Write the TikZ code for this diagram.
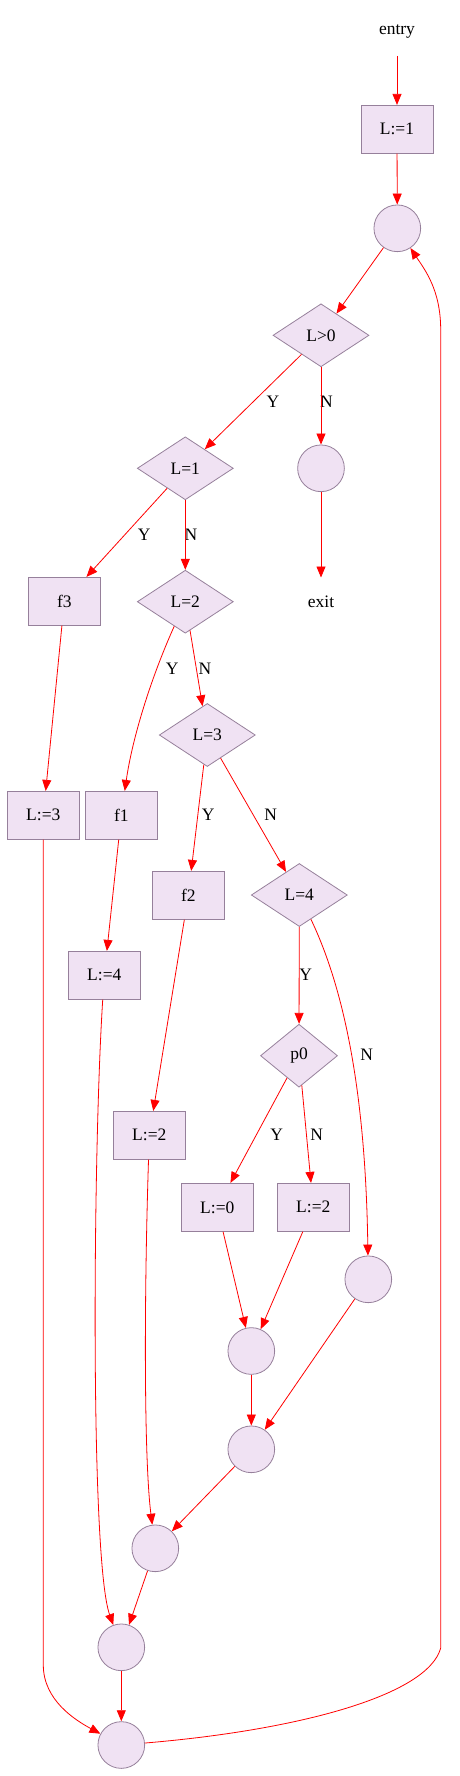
\documentclass[tikz,border=0pt]{standalone}
\usepackage{fontspec}
\setmainfont{Liberation Serif}
\usepackage{tikz}
\usetikzlibrary{shapes.geometric,arrows.meta}

\definecolor{nodefill}{RGB}{240,226,243}
\definecolor{nodeline}{RGB}{150,128,155}

\begin{document}
\begin{tikzpicture}[x=1pt,y=1pt,>={Triangle[length=11pt,width=9pt]},
font=\fontsize{17.5}{20}\selectfont,
flow/.style={draw=red,line width=0.8pt,->},
stmt/.style={draw=nodeline,fill=nodefill,line width=0.8pt,minimum width=72pt,minimum height=48pt,inner sep=0pt},
cond/.style={diamond,aspect=1.5,draw=nodeline,fill=nodefill,line width=0.8pt,minimum width=96pt,minimum height=63pt,inner sep=0pt},
merge/.style={circle,draw=nodeline,fill=nodefill,line width=0.8pt,minimum size=46.7pt,inner sep=0pt},
plainnode/.style={minimum width=72pt,minimum height=48pt,inner sep=0pt},
lbl/.style={inner sep=0pt}]
\useasboundingbox (0,0) rectangle (460,-1776);
\node[plainnode] (entry) at (397,-31.7) {entry};
\node[stmt] (set1) at (397,-129.3) {L:=1};
\node[merge] (loop) at (397.3,-228.3) {};
\node[cond] (gt0) at (321,-335.3) {L>0};
\node[cond] (eq1) at (185.3,-468.3) {L=1};
\node[merge] (out) at (321,-468.3) {};
\node[plainnode] (exit) at (321,-601.7) {exit};
\node[stmt] (f3) at (64.3,-601.3) {f3};
\node[cond] (eq2) at (185.3,-601.7) {L=2};
\node[cond] (eq3) at (207.3,-735) {L=3};
\node[stmt] (set3) at (43.3,-815.3) {L:=3};
\node[stmt] (f1) at (121.3,-815.3) {f1};
\node[stmt] (f2) at (188.3,-895.3) {f2};
\node[cond] (eq4) at (299.3,-895) {L=4};
\node[stmt] (set4) at (104.3,-975.3) {L:=4};
\node[cond,minimum width=77pt] (p0) at (299,-1055.7) {p0};
\node[stmt] (set2a) at (149.3,-1135.3) {L:=2};
\node[stmt] (set0) at (217.3,-1207.3) {L:=0};
\node[stmt] (set2b) at (313.3,-1207.3) {L:=2};
\node[merge] (j4) at (368.3,-1279.3) {};
\node[merge] (j1) at (251.3,-1351) {};
\node[merge] (j2) at (251.3,-1449.3) {};
\node[merge] (j3) at (155.3,-1548.3) {};
\node[merge] (j5) at (121.3,-1647.3) {};
\node[merge] (j6) at (121.3,-1745) {};
\node[lbl] (ygt) at (273,-402) {Y};
\node[lbl] (ngt) at (326.5,-402) {N};
\node[lbl] (y1) at (144.3,-535) {Y};
\node[lbl] (n1) at (191,-535) {N};
\node[lbl] (y2) at (172.3,-668.3) {Y};
\node[lbl] (n2) at (205,-668.3) {N};
\node[lbl] (y3) at (208.3,-815) {Y};
\node[lbl] (n3) at (270.7,-815) {N};
\node[lbl] (y4) at (305.7,-975) {Y};
\node[lbl] (n4) at (366.7,-1055) {N};
\node[lbl] (yp) at (276.7,-1135) {Y};
\node[lbl] (np) at (316.7,-1135) {N};
\draw[flow] (entry) -- (set1);
\draw[flow] (set1) -- (loop);
\draw[flow] (loop) -- (gt0);
\draw[flow] (gt0) -- (eq1);
\draw[flow] (gt0) -- (out);
\draw[flow] (out) -- (exit);
\draw[flow] (eq1) -- (f3);
\draw[flow] (eq1) -- (eq2);
\draw[flow] (eq2) .. controls (150,-680) and (132,-740) .. (f1);
\draw[flow] (eq2) -- (eq3);
\draw[flow] (f3) -- (set3);
\draw[flow] (eq3) -- (f2);
\draw[flow] (eq3) -- (eq4);
\draw[flow] (f1) -- (set4);
\draw[flow] (f2) -- (set2a);
\draw[flow] (eq4) -- (p0);
\draw[flow] (eq4) .. controls (352,-1005) and (366,-1125) .. (j4);
\draw[flow] (p0) -- (set0);
\draw[flow] (p0) -- (set2b);
\draw[flow] (set0) -- (j1);
\draw[flow] (set2b) -- (j1);
\draw[flow] (j4) -- (j2);
\draw[flow] (j1) -- (j2);
\draw[flow] (j2) -- (j3);
\draw[flow] (set2a) .. controls (144,-1300) and (144,-1460) .. (j3);
\draw[flow] (j3) -- (j5);
\draw[flow] (set4) .. controls (93,-1150) and (90,-1560) .. (j5);
\draw[flow] (j5) -- (j6);
\draw[flow] (set3) -- (43.3,-1665) .. controls (43.3,-1700) and (75,-1720) .. (j6);
\draw[flow] (j6) .. controls (300,-1730) and (428,-1695) .. (440.7,-1648)
  -- (440.7,-330) .. controls (440.7,-290) and (425,-270) .. (loop);
\end{tikzpicture}
\end{document}
